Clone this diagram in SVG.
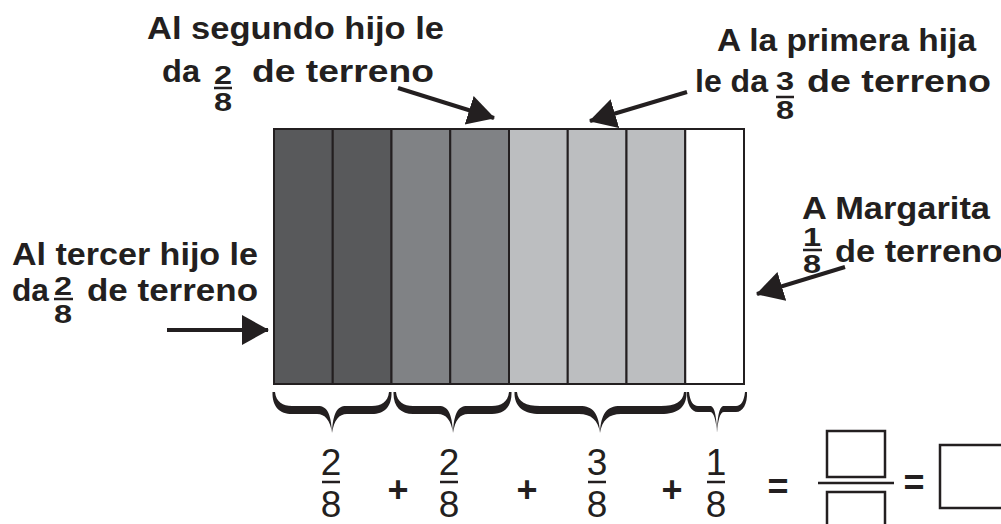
<svg xmlns="http://www.w3.org/2000/svg" width="1001" height="524" viewBox="0 0 1001 524">
<style>
.lb{font-family:"Liberation Sans",Arial,sans-serif;font-weight:bold;font-size:31px;fill:#231f20}
.fr{font-family:"Liberation Sans",Arial,sans-serif;font-weight:bold;font-size:25px;fill:#231f20;text-anchor:middle}
.eq{font-family:"Liberation Sans",Arial,sans-serif;font-size:37px;fill:#231f20;text-anchor:middle}
.op{font-family:"Liberation Sans",Arial,sans-serif;font-weight:bold;font-size:36px;fill:#231f20;text-anchor:middle}
.bar{stroke:#231f20;stroke-width:2.5}
.cell{stroke:#231f20;stroke-width:2}
.d{fill:#58595b}.m{fill:#808285}.l{fill:#bcbec0}.w{fill:#ffffff}
.arr{stroke:#231f20;stroke-width:4;fill:none;marker-end:url(#ah)}
.brace{fill:#231f20}
.box{fill:none;stroke:#231f20;stroke-width:2.5}
</style>
<defs>
<marker id="ah" markerUnits="userSpaceOnUse" markerWidth="28" markerHeight="32" refX="26" refY="16" orient="auto">
<path d="M0,1 L27,16 L0,31 Z" fill="#231f20"/>
</marker>
</defs>
<rect width="1001" height="524" fill="#ffffff"/>

<g id="terreno">
<rect class="cell d" x="274" y="129" width="58.75" height="255"/>
<rect class="cell d" x="332.75" y="129" width="58.75" height="255"/>
<rect class="cell m" x="391.5" y="129" width="58.75" height="255"/>
<rect class="cell m" x="450.25" y="129" width="58.75" height="255"/>
<rect class="cell l" x="509" y="129" width="58.75" height="255"/>
<rect class="cell l" x="567.75" y="129" width="58.75" height="255"/>
<rect class="cell l" x="626.5" y="129" width="58.75" height="255"/>
<rect class="cell w" x="685.25" y="129" width="58.75" height="255"/>
</g>

<g id="llaves">
<path class="brace" d="M275,392 C276,402 283,406 292,406 L318,406 C327,406 331,413 332,433 C333,413 337,406 346,406 L372,406 C381,406 388,402 389,392 L391.5,392 C392,407 384,414 372,414 L347,414 C339,414 334,420 332,433 C330,420 325,414 317,414 L292,414 C280,414 272,407 272.5,392 Z"/>
<path class="brace" d="M396,392 C397,402 404,406 413,406 L439,406 C448,406 452,413 453,433 C454,413 458,406 467,406 L492,406 C501,406 508,402 509,392 L511.5,392 C512,407 504,414 492,414 L468,414 C460,414 455,420 453,433 C451,420 446,414 438,414 L413,414 C401,414 393,407 393.5,392 Z"/>
<path class="brace" d="M517,392 C518,402 526,406 540,406 L580,406 C593,406 599,413 600,433 C601,413 607,406 620,406 L661,406 C675,406 683,402 684,392 L686.5,392 C687,407 678,414 661,414 L621,414 C609,414 602,420 600,433 C598,420 591,414 579,414 L540,414 C524,414 514,407 514.5,392 Z"/>
<path class="brace" d="M689,392 C690,401 693,406 698,406 L710,406 C714,406 716.5,413 717,433 C717.5,413 720,406 724,406 L736,406 C741,406 744,401 745,392 L747,392 C747.5,404 743,412 736,412 L724,412 C720,412 718,420 717,433 C716,420 714,412 710,412 L698,412 C691,412 686.5,404 687,392 Z"/>
</g>

<g id="conectores">
<line class="arr" x1="398" y1="88" x2="494" y2="118"/>
<line class="arr" x1="687" y1="92" x2="590" y2="121"/>
<line class="arr" x1="845" y1="267" x2="757" y2="294"/>
<line class="arr" x1="167" y1="330" x2="268" y2="330"/>
</g>

<g id="label-segundo">
<text class="lb" x="147" y="39" textLength="297" lengthAdjust="spacingAndGlyphs">Al segundo hijo le</text>
<text class="lb" x="162" y="82" textLength="38" lengthAdjust="spacingAndGlyphs">da</text>
<text class="fr" transform="translate(223,84) scale(1.3,1)">2</text>
<line class="bar" x1="214" y1="88" x2="232" y2="88"/>
<text class="fr" transform="translate(223,111) scale(1.3,1)">8</text>
<text class="lb" x="252" y="82" textLength="182" lengthAdjust="spacingAndGlyphs">de terreno</text>
</g>

<g id="label-primera">
<text class="lb" x="717" y="51" textLength="259" lengthAdjust="spacingAndGlyphs">A la primera hija</text>
<text class="lb" x="695" y="92" textLength="73" lengthAdjust="spacingAndGlyphs">le da</text>
<text class="fr" transform="translate(785,90) scale(1.3,1)">3</text>
<line class="bar" x1="776" y1="97" x2="794" y2="97"/>
<text class="fr" transform="translate(785,119) scale(1.3,1)">8</text>
<text class="lb" x="807" y="92" textLength="184" lengthAdjust="spacingAndGlyphs">de terreno</text>
</g>

<g id="label-margarita">
<text class="lb" x="802" y="219" textLength="188" lengthAdjust="spacingAndGlyphs">A Margarita</text>
<text class="fr" transform="translate(812,246) scale(1.3,1)">1</text>
<line class="bar" x1="803" y1="250" x2="822" y2="250"/>
<text class="fr" transform="translate(812,273) scale(1.3,1)">8</text>
<text class="lb" x="835" y="262" textLength="168" lengthAdjust="spacingAndGlyphs">de terreno</text>
</g>

<g id="label-tercer">
<text class="lb" x="12" y="265" textLength="246" lengthAdjust="spacingAndGlyphs">Al tercer hijo le</text>
<text class="lb" x="12" y="301" textLength="37" lengthAdjust="spacingAndGlyphs">da</text>
<text class="fr" transform="translate(63,295) scale(1.3,1)">2</text>
<line class="bar" x1="54" y1="299" x2="73" y2="299"/>
<text class="fr" transform="translate(63,323) scale(1.3,1)">8</text>
<text class="lb" x="87" y="301" textLength="171" lengthAdjust="spacingAndGlyphs">de terreno</text>
</g>

<g id="ecuacion">
<text class="eq" x="331" y="475">2</text>
<line class="bar" x1="322" y1="482" x2="340" y2="482"/>
<text class="eq" x="331" y="517">8</text>
<text class="op" x="398" y="502">+</text>
<text class="eq" x="449" y="475">2</text>
<line class="bar" x1="440" y1="482" x2="458" y2="482"/>
<text class="eq" x="449" y="517">8</text>
<text class="op" x="527" y="502">+</text>
<text class="eq" x="597" y="475">3</text>
<line class="bar" x1="588" y1="482" x2="606" y2="482"/>
<text class="eq" x="597" y="517">8</text>
<text class="op" x="672" y="502">+</text>
<text class="eq" x="716" y="475">1</text>
<line class="bar" x1="707" y1="482" x2="725" y2="482"/>
<text class="eq" x="716" y="517">8</text>
<text class="op" x="778" y="499">=</text>
<rect class="box" x="827" y="431" width="58" height="46"/>
<line class="bar" x1="818" y1="483" x2="894" y2="483"/>
<rect class="box" x="827" y="492" width="58" height="40"/>
<text class="op" x="914" y="495">=</text>
<rect class="box" x="940" y="445" width="70" height="63"/>
</g>
</svg>
